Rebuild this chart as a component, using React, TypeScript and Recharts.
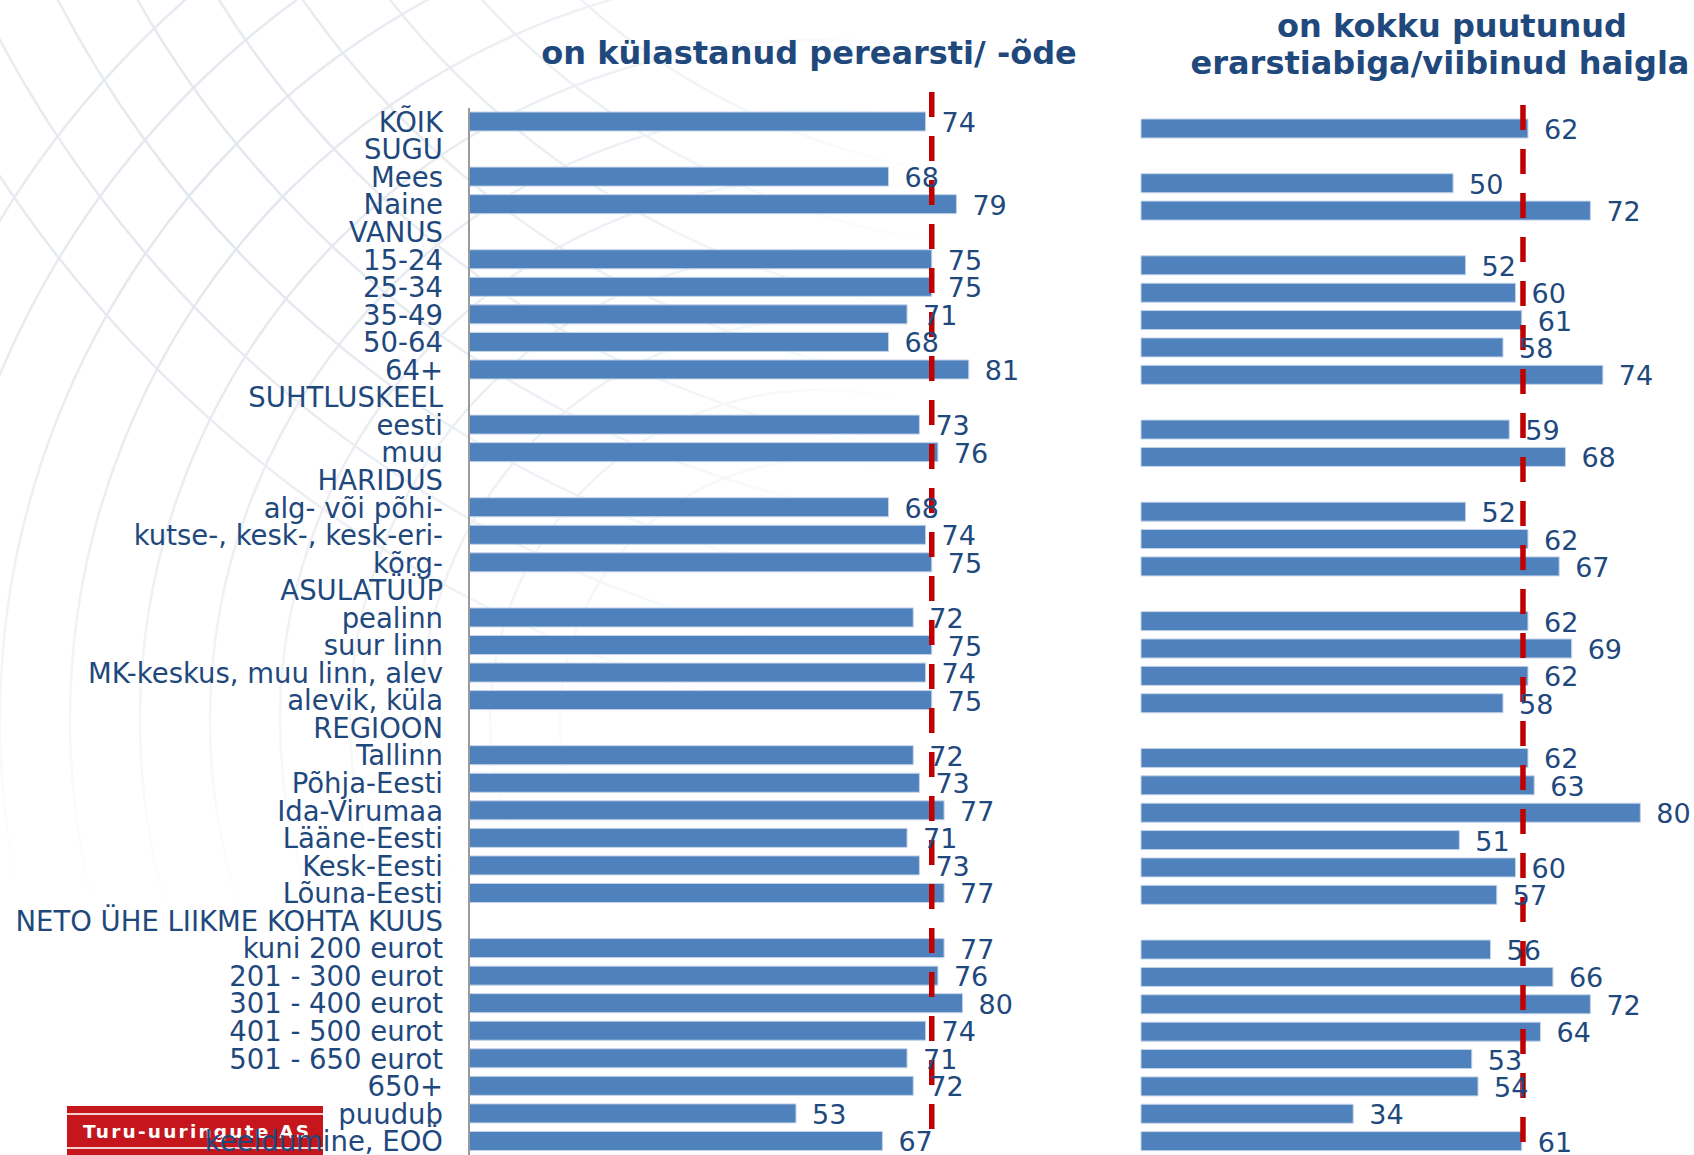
import React from 'react';
import { BarChart, Bar, XAxis, YAxis, ReferenceLine, LabelList } from 'recharts';

// ---- data ----
const categories = [
  'KÕIK', 'SUGU', 'Mees', 'Naine', 'VANUS', '15-24', '25-34', '35-49', '50-64', '64+',
  'SUHTLUSKEEL', 'eesti', 'muu', 'HARIDUS', 'alg- või põhi-', 'kutse-, kesk-, kesk-eri-', 'kõrg-',
  'ASULATÜÜP', 'pealinn', 'suur linn', 'MK-keskus, muu linn, alev', 'alevik, küla',
  'REGIOON', 'Tallinn', 'Põhja-Eesti', 'Ida-Virumaa', 'Lääne-Eesti', 'Kesk-Eesti', 'Lõuna-Eesti',
  'NETO ÜHE LIIKME KOHTA KUUS', 'kuni 200 eurot', '201 - 300 eurot', '301 - 400 eurot',
  '401 - 500 eurot', '501 - 650 eurot', '650+', 'puudub', 'keeldumine, EOÖ',
];

const visitedGP = [
  74, null, 68, 79, null, 75, 75, 71, 68, 81,
  null, 73, 76, null, 68, 74, 75,
  null, 72, 75, 74, 75,
  null, 72, 73, 77, 71, 73, 77,
  null, 77, 76, 80, 74, 71, 72, 53, 67,
];

const privateCareOrHospital = [
  62, null, 50, 72, null, 52, 60, 61, 58, 74,
  null, 59, 68, null, 52, 62, 67,
  null, 62, 69, 62, 58,
  null, 62, 63, 80, 51, 60, 57,
  null, 56, 66, 72, 64, 53, 54, 34, 61,
];

const leftTitle = 'on külastanud perearsti/ -õde';
const rightTitleLines = ['on kokku puutunud', 'erarstiabiga/viibinud haigla'];
const leftMarker = 75;
const rightMarker = 61.2;
const logoText = 'Turu-uuringute AS';

const leftData = categories.map((name, i) => ({ name, value: visitedGP[i] }));
const rightData = categories.map((name, i) => ({ name, value: privateCareOrHospital[i] }));

// ---- styles ----
const FONT = 'DejaVu Sans, Verdana, sans-serif';
const TEXT = '#1F497D';
const BAR = '#4F81BD';
const RED = '#C00000';

const ValueLabel = (props: any) => {
  const { x, y, width, height, value } = props;
  if (value === null || value === undefined) return null;
  return (
    <text
      x={Number(x) + Number(width) + 16}
      y={Number(y) + Number(height) / 2 + 1}
      dominantBaseline="central"
      textAnchor="start"
      fontFamily={FONT}
      fontSize={27}
      fill={TEXT}
    >
      {value}
    </text>
  );
};

const CategoryTick = (props: any) => {
  const { x, y, payload } = props;
  return (
    <text
      x={x}
      y={y}
      dominantBaseline="central"
      textAnchor="end"
      fontFamily={FONT}
      fontSize={27.5}
      fill={TEXT}
    >
      {payload.value}
    </text>
  );
};

const dashShape = (top: number, bottom: number) => (p: any) => (
  <line
    x1={p.x1}
    x2={p.x2}
    y1={top}
    y2={bottom}
    stroke={RED}
    strokeWidth={5.5}
    strokeDasharray="25 19"
  />
);

const Background = () => {
  const r1 = [260, 330, 400, 470, 540, 610, 680, 750, 820, 890, 960];
  const r2 = [700, 770, 840, 910, 980, 1050, 1120, 1190, 1260];
  return (
    <svg width={1694} height={1155} style={{ position: 'absolute', left: 0, top: 0 }}>
      <defs>
        <radialGradient id="fade" cx={220} cy={200} r={720} gradientUnits="userSpaceOnUse">
          <stop offset="0" stopColor="#fff" stopOpacity={1} />
          <stop offset="0.6" stopColor="#fff" stopOpacity={0.55} />
          <stop offset="1" stopColor="#fff" stopOpacity={0} />
        </radialGradient>
        <mask id="fadeMask">
          <rect x={0} y={0} width={1694} height={1155} fill="url(#fade)" />
        </mask>
      </defs>
      <g mask="url(#fadeMask)" fill="none" stroke="#E1E6ED" strokeWidth={2.5}>
        {r1.map((r) => (
          <circle key={'a' + r} cx={820} cy={720} r={r} />
        ))}
        {r2.map((r) => (
          <circle key={'b' + r} cx={1050} cy={-520} r={r} />
        ))}
      </g>
      <text x={809} y={64} textAnchor="middle" fontFamily={FONT} fontWeight="bold" fontSize={32} fill={TEXT}>
        {leftTitle}
      </text>
      <text x={1452} y={37} textAnchor="middle" fontFamily={FONT} fontWeight="bold" fontSize={32} fill={TEXT}>
        {rightTitleLines[0]}
      </text>
      <text x={1440} y={74} textAnchor="middle" fontFamily={FONT} fontWeight="bold" fontSize={32} fill={TEXT}>
        {rightTitleLines[1]}
      </text>
      <rect x={67} y={1106} width={256} height={49} fill="#C4161C" />
      <rect x={67} y={1113} width={256} height={2} fill="#F3D0D0" />
      <rect x={67} y={1147} width={256} height={2} fill="#F3D0D0" />
      <text x={83} y={1138} fontFamily={FONT} fontWeight="bold" fontSize={18.5} fill="#FFFFFF" textLength={226} lengthAdjust="spacing">
        {logoText}
      </text>
    </svg>
  );
};

export default function App() {
  return (
    <div style={{ position: 'absolute', left: 0, top: 0, width: 1694, height: 1155, background: '#fff', overflow: 'hidden' }}>
      <Background />
      <div style={{ position: 'absolute', left: 0, top: 0 }}>
        <BarChart
          width={1090}
          height={1155}
          data={leftData}
          layout="vertical"
          margin={{ top: 108, right: 4, bottom: 0, left: 0 }}
        >
          <XAxis type="number" domain={[0, 100]} hide />
          <YAxis
            type="category"
            dataKey="name"
            width={469}
            interval={0}
            tickLine={false}
            tickSize={0}
            tickMargin={26}
            axisLine={{ stroke: '#9A9A9A', strokeWidth: 2 }}
            tick={<CategoryTick />}
          />
          <Bar dataKey="value" fill={BAR} stroke="#C3D3E8" strokeWidth={1} barSize={19} isAnimationActive={false}>
            <LabelList dataKey="value" content={<ValueLabel />} />
          </Bar>
          <ReferenceLine x={leftMarker} ifOverflow="visible" shape={dashShape(92, 1140)} />
        </BarChart>
      </div>
      <div style={{ position: 'absolute', left: 1100, top: 0 }}>
        <BarChart
          width={594}
          height={1155}
          data={rightData}
          layout="vertical"
          margin={{ top: 115, right: 0, bottom: 0, left: 41 }}
        >
          <XAxis type="number" domain={[0, 88.6]} hide />
          <YAxis type="category" dataKey="name" hide interval={0} />
          <Bar dataKey="value" fill={BAR} stroke="#C3D3E8" strokeWidth={1} barSize={19} isAnimationActive={false}>
            <LabelList dataKey="value" content={<ValueLabel />} />
          </Bar>
          <ReferenceLine x={rightMarker} ifOverflow="visible" shape={dashShape(105, 1150)} />
        </BarChart>
      </div>
    </div>
  );
}
